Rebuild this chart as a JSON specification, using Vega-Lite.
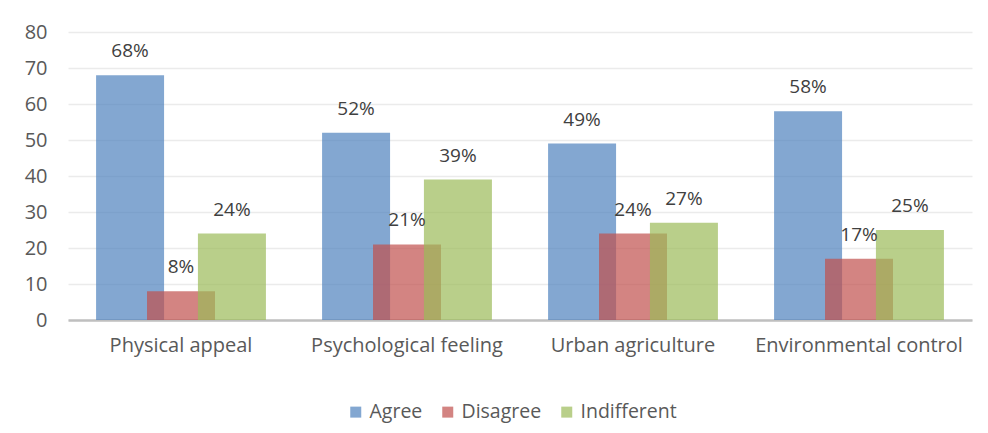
{
  "$schema": "https://vega.github.io/schema/vega-lite/v6.json",
  "width": 904,
  "height": 288,
  "autosize": {"type": "none"},
  "padding": {"left": 68, "top": 32, "right": 16, "bottom": 113},
  "background": "white",
  "config": {
    "view": {"stroke": null},
    "font": "Open Sans",
    "axis": {"labelFont": "Open Sans", "labelFontSize": 20, "labelColor": "#595959", "labelLimit": 0, "ticks": false, "title": null}
  },
  "data": {
    "values": [
      {"aspect": "Physical appeal", "response": "Agree", "value": 68},
      {"aspect": "Physical appeal", "response": "Disagree", "value": 8},
      {"aspect": "Physical appeal", "response": "Indifferent", "value": 24},
      {"aspect": "Psychological feeling", "response": "Agree", "value": 52},
      {"aspect": "Psychological feeling", "response": "Disagree", "value": 21},
      {"aspect": "Psychological feeling", "response": "Indifferent", "value": 39},
      {"aspect": "Urban agriculture", "response": "Agree", "value": 49},
      {"aspect": "Urban agriculture", "response": "Disagree", "value": 24},
      {"aspect": "Urban agriculture", "response": "Indifferent", "value": 27},
      {"aspect": "Environmental control", "response": "Agree", "value": 58},
      {"aspect": "Environmental control", "response": "Disagree", "value": 17},
      {"aspect": "Environmental control", "response": "Indifferent", "value": 25}
    ]
  },
  "encoding": {
    "x": {
      "field": "aspect", "type": "nominal", "sort": null,
      "scale": {"paddingInner": 0.324, "paddingOuter": 0.162},
      "axis": {"labelAngle": 0, "labelPadding": 15, "domainColor": "#bfbfbf", "domainWidth": 2.5, "grid": false}
    },
    "xOffset": {
      "field": "response", "type": "nominal", "sort": null,
      "scale": {"paddingInner": 0, "paddingOuter": 0}
    },
    "y": {
      "field": "value", "type": "quantitative",
      "scale": {"domain": [0, 80], "nice": false},
      "axis": {"values": [0, 10, 20, 30, 40, 50, 60, 70, 80], "domain": false, "labelPadding": 21, "gridColor": "#ebebeb", "gridWidth": 1.5}
    }
  },
  "layer": [
    {
      "mark": {"type": "bar", "width": 68, "opacity": 0.7},
      "encoding": {
        "color": {
          "field": "response", "type": "nominal", "sort": null,
          "scale": {"domain": ["Agree", "Disagree", "Indifferent"], "range": ["#4F81BD", "#C0504D", "#9BBB59"]},
          "legend": {
            "title": null, "orient": "none", "direction": "horizontal",
            "legendX": 278, "legendY": 370,
            "symbolType": "square", "symbolSize": 121, "symbolOpacity": 0.7, "symbolStrokeWidth": 0,
            "labelFont": "Open Sans", "labelFontSize": 19.5, "labelColor": "#595959",
            "labelOffset": 4, "columnPadding": 15, "padding": 0
          }
        }
      }
    },
    {
      "mark": {"type": "text", "baseline": "middle", "dy": -24, "fontSize": 19, "color": "#404040", "text": {"expr": "datum.value + '%'"}}
    }
  ]
}
